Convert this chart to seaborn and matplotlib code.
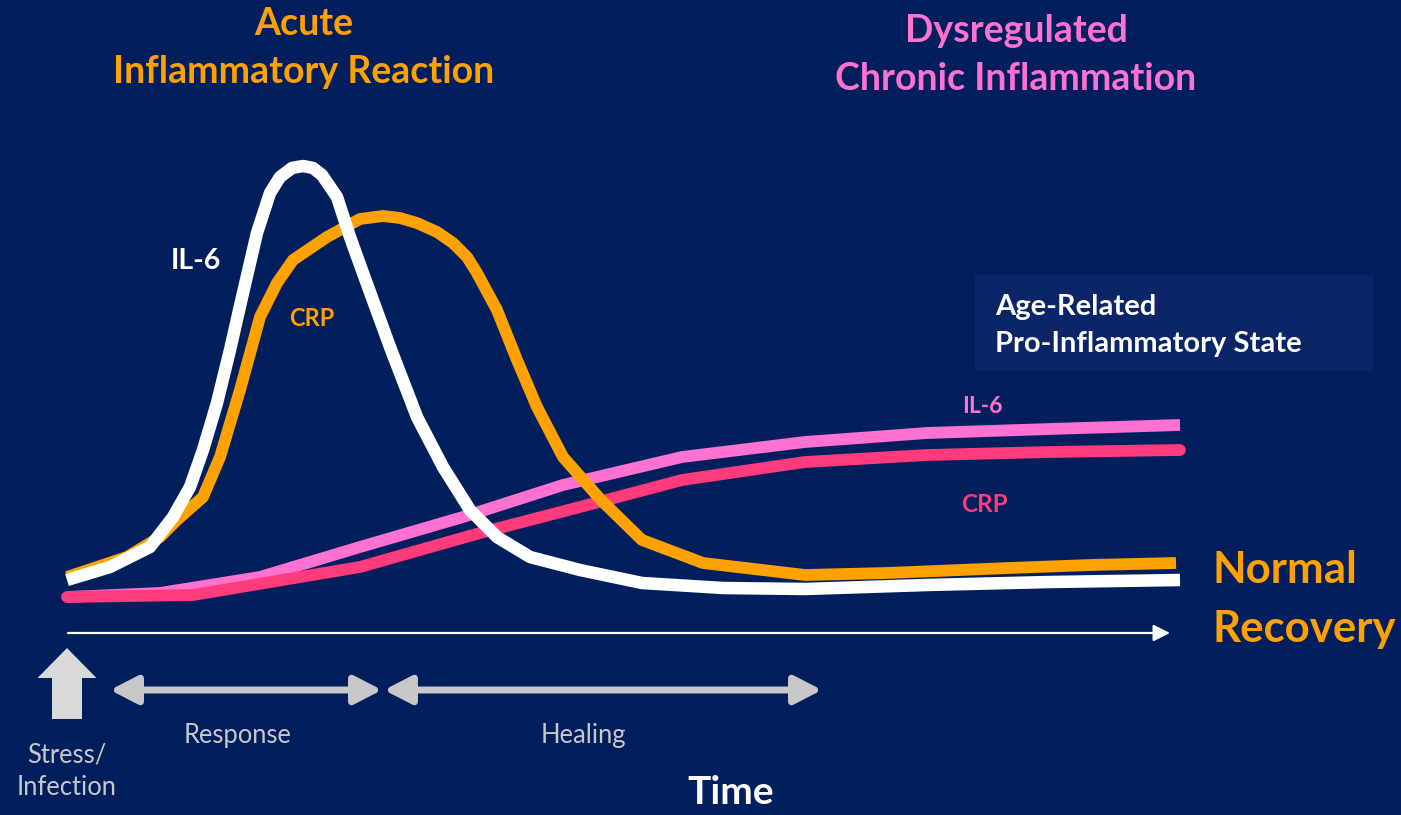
import matplotlib
matplotlib.use("Agg")
import matplotlib.pyplot as plt
from matplotlib.patches import FancyArrow, Rectangle
import seaborn as sns

# Curves (x = time position, y = screen level, top = 0)
il6_time = [67, 110, 150, 173, 190, 203, 217, 230, 243, 257, 270, 280, 292, 303,
            313, 322, 337, 350, 363, 390, 417, 443, 470, 497, 530, 580, 642, 723,
            805, 927, 1050, 1180]
acute_il6 = [580, 567, 547, 517, 487, 450, 403, 350, 293, 233, 193, 177, 168, 166,
             168, 175, 197, 237, 273, 347, 417, 467, 510, 537, 557, 570, 583, 588,
             589, 585, 582, 580]

crp_time = [67, 127, 160, 177, 203, 220, 240, 260, 277, 293, 327, 360, 383, 400,
            417, 437, 453, 467, 477, 497, 517, 537, 563, 601, 642, 703, 805, 887,
            1009, 1091, 1176]
acute_crp = [577, 557, 537, 520, 497, 457, 390, 317, 283, 260, 237, 219, 216, 218,
             223, 232, 243, 257, 273, 310, 360, 407, 457, 500, 540, 563, 575, 573,
             568, 565, 563]

chronic_time = [67, 160, 260, 360, 463, 563, 682, 805, 927, 1050, 1180]
chronic_il6 = [597, 593, 577, 547, 517, 485, 457, 442, 433, 429, 425]
crp_chronic_time = [67, 193, 360, 480, 580, 682, 805, 927, 1050, 1180]
chronic_crp = [597, 595, 567, 533, 507, 480, 462, 455, 452, 450]

BG = "#001f5c"
WHITE = "#ffffff"
ORANGE = "#ffa200"
PINK = "#ff72d2"
RED = "#ff3b7b"
GREY = "#c8c8c8"

sns.set_theme(style="white")
plt.rcParams["font.family"] = ["Lato", "DejaVu Sans"]

fig = plt.figure(figsize=(14.01, 8.15), dpi=100, facecolor=BG)
ax = fig.add_axes([0, 0, 1, 1])
ax.set_facecolor(BG)
ax.set_xlim(0, 1401)
ax.set_ylim(815, 0)
ax.axis("off")

# curves (chronic first, acute on top)
sns.lineplot(x=chronic_time, y=chronic_il6, color=PINK, lw=8.5, sort=False, ax=ax,
             solid_capstyle="butt", solid_joinstyle="round")
sns.lineplot(x=crp_chronic_time, y=chronic_crp, color=RED, lw=8.5, sort=False, ax=ax,
             solid_capstyle="round", solid_joinstyle="round")
sns.lineplot(x=crp_time, y=acute_crp, color=ORANGE, lw=8.5, sort=False, ax=ax,
             solid_capstyle="butt", solid_joinstyle="round")
sns.lineplot(x=il6_time, y=acute_il6, color=WHITE, lw=9, sort=False, ax=ax,
             solid_capstyle="butt", solid_joinstyle="round")

# time axis arrow
ax.annotate("", xy=(1170, 633), xytext=(68, 633),
            arrowprops=dict(arrowstyle="-|>,head_length=1.0,head_width=0.5",
                            color=WHITE, lw=1.6, mutation_scale=10,
                            shrinkA=0, shrinkB=0))

# stress / infection arrow
ax.add_patch(FancyArrow(67, 719, 0, -71, width=30, head_width=59, head_length=30,
                        length_includes_head=True, color="#d9d9d9", lw=0))

# phase arrows
for x0, x1 in [(110, 382), (384, 822)]:
    ax.annotate("", xy=(x1, 690), xytext=(x0, 690),
                arrowprops=dict(arrowstyle="<|-|>,head_length=1.65,head_width=0.85",
                                color=GREY, lw=5, mutation_scale=10,
                                shrinkA=0, shrinkB=0))

# box for age-related state
ax.add_patch(Rectangle((975, 275), 398, 96, color="#0b2566", lw=0))

# texts
bold = dict(fontweight="bold", va="baseline")
ax.text(304, 35, "Acute", color=ORANGE, fontsize=27, ha="center", **bold)
ax.text(304, 83, "Inflammatory Reaction", color=ORANGE, fontsize=27, ha="center", **bold)
ax.text(1016, 42, "Dysregulated", color=PINK, fontsize=27, ha="center", **bold)
ax.text(1016, 90, "Chronic Inflammation", color=PINK, fontsize=27, ha="center", **bold)
ax.text(196, 269, "IL-6", color=WHITE, fontsize=20.5, ha="center", **bold)
ax.text(312, 326, "CRP", color=ORANGE, fontsize=17, ha="center", **bold)
ax.text(995, 315, "Age-Related", color=WHITE, fontsize=21, ha="left", **bold)
ax.text(995, 352, "Pro-Inflammatory State", color=WHITE, fontsize=21, ha="left", **bold)
ax.text(982, 413, "IL-6", color=PINK, fontsize=16.5, ha="center", **bold)
ax.text(984, 512, "CRP", color=RED, fontsize=17.5, ha="center", **bold)
ax.text(1213, 583, "Normal", color=ORANGE, fontsize=31.5, ha="left", **bold)
ax.text(1213, 642, "Recovery", color=ORANGE, fontsize=31.5, ha="left", **bold)
ax.text(731, 804, "Time", color=WHITE, fontsize=28, ha="center", **bold)

ax.text(238, 743, "Response", color=GREY, fontsize=18.4, ha="center", va="baseline")
ax.text(583, 743, "Healing", color=GREY, fontsize=18.4, ha="center", va="baseline")
ax.text(67, 763, "Stress/", color=GREY, fontsize=18.4, ha="center", va="baseline")
ax.text(67, 795, "Infection", color=GREY, fontsize=18.4, ha="center", va="baseline")

fig.savefig("out.png", dpi=100, facecolor=BG)
